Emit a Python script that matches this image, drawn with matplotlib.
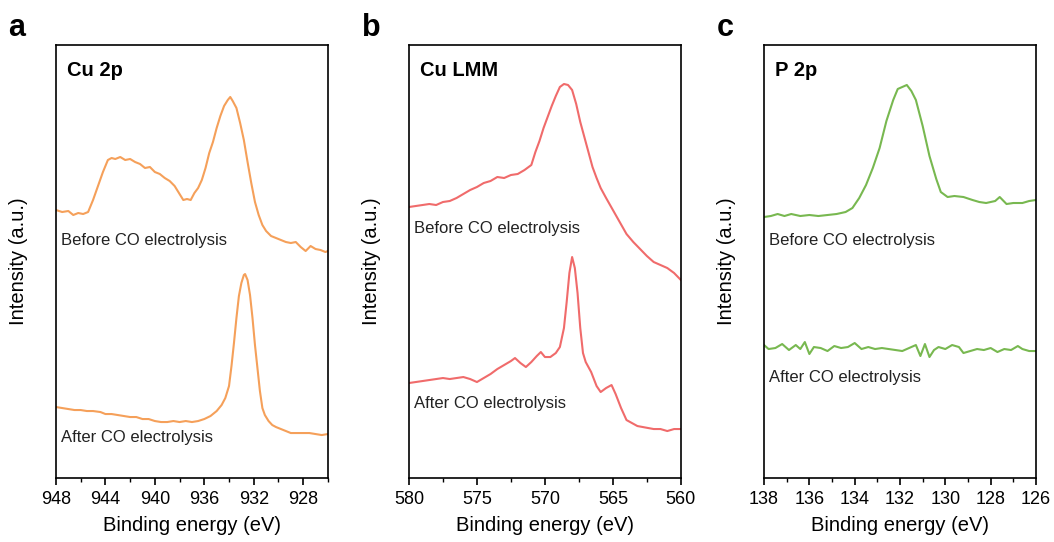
import matplotlib
matplotlib.use("Agg")
import matplotlib.pyplot as plt
from matplotlib.ticker import MultipleLocator

plt.rcParams['font.family'] = ['Liberation Sans', 'DejaVu Sans']

# Cu 2p region
cu2p_ev = [948.0, 947.5, 947.0, 946.6, 946.2, 945.8, 945.4, 945.0, 944.6, 944.2, 943.8, 943.5,
           943.2, 942.8, 942.4, 942.0, 941.6, 941.2, 940.8, 940.4, 940.0, 939.6, 939.2, 938.8,
           938.4, 938.0, 937.7, 937.4, 937.1, 936.8, 936.5, 936.2, 935.9, 935.6, 935.3, 935.0,
           934.7, 934.4, 934.1, 933.9, 933.7, 933.4, 933.1, 932.8, 932.5, 932.2, 931.9, 931.6,
           931.3, 931.0, 930.6, 930.2, 929.8, 929.4, 929.0, 928.6, 928.2, 927.8, 927.4, 927.0,
           926.6, 926.2, 926.0]
cu2p_before = [268, 266, 267, 263, 265, 264, 266, 278, 292, 306, 318, 320,
               319, 321, 318, 319, 316, 314, 310, 311, 306, 304, 300, 297,
               292, 284, 278, 279, 278, 285, 290, 298, 310, 325, 336, 350,
               362, 372, 378, 381, 377, 370, 355, 338, 316, 295, 276, 263,
               253, 247, 242, 240, 238, 236, 235, 236, 231, 227, 232, 229,
               228, 226, 227]

cu2p_ev_after = [948.0, 947.5, 947.0, 946.5, 946.0, 945.5, 945.0, 944.4, 944.0, 943.5, 943.0,
                 942.5, 942.0, 941.5, 941.0, 940.5, 940.0, 939.5, 939.0, 938.5, 938.0, 937.5,
                 937.0, 936.5, 936.0, 935.5, 935.0, 934.6, 934.3, 934.0, 933.8, 933.6, 933.4,
                 933.2, 933.0, 932.8, 932.7, 932.5, 932.3, 932.1, 931.9, 931.7, 931.5, 931.3,
                 931.1, 930.8, 930.5, 930.2, 929.8, 929.4, 929.0, 928.5, 928.0, 927.5, 927.0,
                 926.5, 926.0]
cu2p_after = [71, 70, 69, 68, 68, 67, 67, 66, 64, 64, 63,
              62, 61, 61, 59, 59, 57, 56, 56, 57, 56, 57,
              56, 57, 59, 62, 67, 73, 80, 92, 112, 135, 160,
              182, 195, 203, 204, 198, 183, 160, 133, 110, 87, 70,
              63, 57, 53, 51, 49, 47, 45, 45, 45, 45, 44,
              43, 44]

# Cu LMM region
lmm_ev = [580.0, 579.5, 579.0, 578.5, 578.0, 577.5, 577.0, 576.5, 576.0, 575.5, 575.0, 574.5,
          574.0, 573.5, 573.0, 572.5, 572.0, 571.5, 571.0, 570.7, 570.4, 570.1, 569.8, 569.5,
          569.2, 568.9, 568.6, 568.3, 568.0, 567.7, 567.4, 567.1, 566.8, 566.5, 566.2, 565.9,
          565.5, 565.0, 564.5, 564.0, 563.5, 563.0, 562.5, 562.0, 561.5, 561.0, 560.5, 560.0]
lmm_before = [271, 272, 273, 274, 273, 276, 277, 280, 284, 288, 291, 295,
              297, 301, 300, 303, 304, 308, 313, 326, 337, 350, 361, 372,
              382, 391, 394, 393, 388, 374, 356, 341, 326, 311, 300, 290,
              280, 268, 256, 244, 236, 229, 222, 216, 213, 210, 205, 198]

lmm_ev_after = [580.0, 579.5, 579.0, 578.5, 578.0, 577.5, 577.0, 576.5, 576.0, 575.5, 575.0,
                574.5, 574.0, 573.5, 573.0, 572.5, 572.2, 571.8, 571.4, 571.0, 570.6, 570.3,
                570.0, 569.6, 569.2, 568.9, 568.6, 568.4, 568.2, 568.0, 567.8, 567.6, 567.4,
                567.2, 567.0, 566.6, 566.2, 565.9, 565.5, 565.1, 564.8, 564.4, 564.0, 563.6,
                563.2, 562.8, 562.4, 562.0, 561.5, 561.0, 560.5, 560.0]
lmm_after = [95, 96, 97, 98, 99, 100, 99, 100, 101, 99, 96,
             100, 104, 109, 113, 117, 120, 115, 111, 116, 122, 126,
             121, 121, 125, 131, 150, 176, 205, 221, 210, 185, 150,
             125, 116, 106, 92, 86, 90, 93, 84, 70, 58, 55,
             52, 51, 50, 49, 49, 47, 49, 49]

# P 2p region
p2p_ev = [138.0, 137.7, 137.4, 137.1, 136.8, 136.4, 136.0, 135.6, 135.2, 134.8, 134.4, 134.1,
          133.8, 133.5, 133.2, 132.9, 132.6, 132.3, 132.1, 131.9, 131.7, 131.5, 131.3, 131.0,
          130.7, 130.4, 130.2, 129.9, 129.6, 129.2, 128.8, 128.5, 128.2, 127.8, 127.6, 127.3,
          127.0, 126.6, 126.3, 126.0]
p2p_before = [261, 262, 264, 262, 264, 262, 263, 262, 263, 264, 266, 270,
              280, 293, 310, 330, 357, 378, 389, 391, 393, 387, 378, 352,
              322, 299, 286, 281, 282, 281, 278, 276, 275, 277, 281, 274,
              275, 275, 277, 278]

p2p_ev_after = [138.0, 137.8, 137.5, 137.2, 136.9, 136.6, 136.4, 136.2, 136.0, 135.8, 135.5,
                135.2, 134.9, 134.6, 134.3, 134.0, 133.7, 133.4, 133.1, 132.8, 132.5, 132.2,
                131.9, 131.6, 131.3, 131.1, 130.9, 130.7, 130.5, 130.3, 130.0, 129.7, 129.4,
                129.2, 128.9, 128.6, 128.3, 128.0, 127.7, 127.4, 127.1, 126.8, 126.6, 126.3,
                126.0]
p2p_after = [133, 129, 130, 134, 128, 133, 129, 136, 124, 131, 130,
             127, 132, 130, 131, 135, 129, 131, 129, 130, 129, 128,
             127, 130, 133, 122, 134, 121, 128, 131, 129, 133, 131,
             125, 127, 129, 128, 130, 126, 129, 128, 132, 129, 127,
             127]

panels = [
    dict(letter='a', title='Cu 2p', color='#F5A05A', xlim=(948, 926), major=4, minor=2,
         ev_b=cu2p_ev, y_b=cu2p_before, ev_a=cu2p_ev_after, y_a=cu2p_after,
         lab_b=238, lab_a=41, left=0.0531),
    dict(letter='b', title='Cu LMM', color='#F06B6B', xlim=(580, 560), major=5, minor=2.5,
         ev_b=lmm_ev, y_b=lmm_before, ev_a=lmm_ev_after, y_a=lmm_after,
         lab_b=250, lab_a=75, left=0.388),
    dict(letter='c', title='P 2p', color='#78B850', xlim=(138, 126), major=2, minor=1,
         ev_b=p2p_ev, y_b=p2p_before, ev_a=p2p_ev_after, y_a=p2p_after,
         lab_b=238, lab_a=101, left=0.7249),
]

fig = plt.figure(figsize=(10.54, 5.42), dpi=100)

for p in panels:
    ax = fig.add_axes([p['left'], 0.118, 0.258, 0.799])
    ax.plot(p['ev_b'], p['y_b'], color=p['color'], lw=1.5)
    ax.plot(p['ev_a'], p['y_a'], color=p['color'], lw=1.5)
    ax.set_xlim(*p['xlim'])
    ax.set_ylim(0, 433)
    ax.set_yticks([])
    ax.xaxis.set_major_locator(MultipleLocator(p['major']))
    ax.xaxis.set_minor_locator(MultipleLocator(p['minor']))
    ax.tick_params(axis='x', which='major', direction='out', length=5, width=1.2,
                   labelsize=13, pad=4)
    ax.tick_params(axis='x', which='minor', direction='out', length=3, width=1.0)
    for s in ax.spines.values():
        s.set_linewidth(1.2)
    ax.set_xlabel('Binding energy (eV)', fontsize=14.5, labelpad=6)
    ax.set_ylabel('Intensity (a.u.)', fontsize=14.5, labelpad=20)
    ax.text(0.04, 0.94, p['title'], transform=ax.transAxes, fontsize=14.5,
            fontweight='bold', va='center', ha='left')
    ax.text(0.02, p['lab_b'] / 433, 'Before CO electrolysis', transform=ax.transAxes,
            fontsize=12, va='center', ha='left', color='#222222')
    ax.text(0.02, p['lab_a'] / 433, 'After CO electrolysis', transform=ax.transAxes,
            fontsize=12, va='center', ha='left', color='#222222')
    fig.text(p['left'] - 0.045, 0.948, p['letter'], fontsize=22, fontweight='bold',
             va='center', ha='left')

fig.savefig('out.png', dpi=100)
